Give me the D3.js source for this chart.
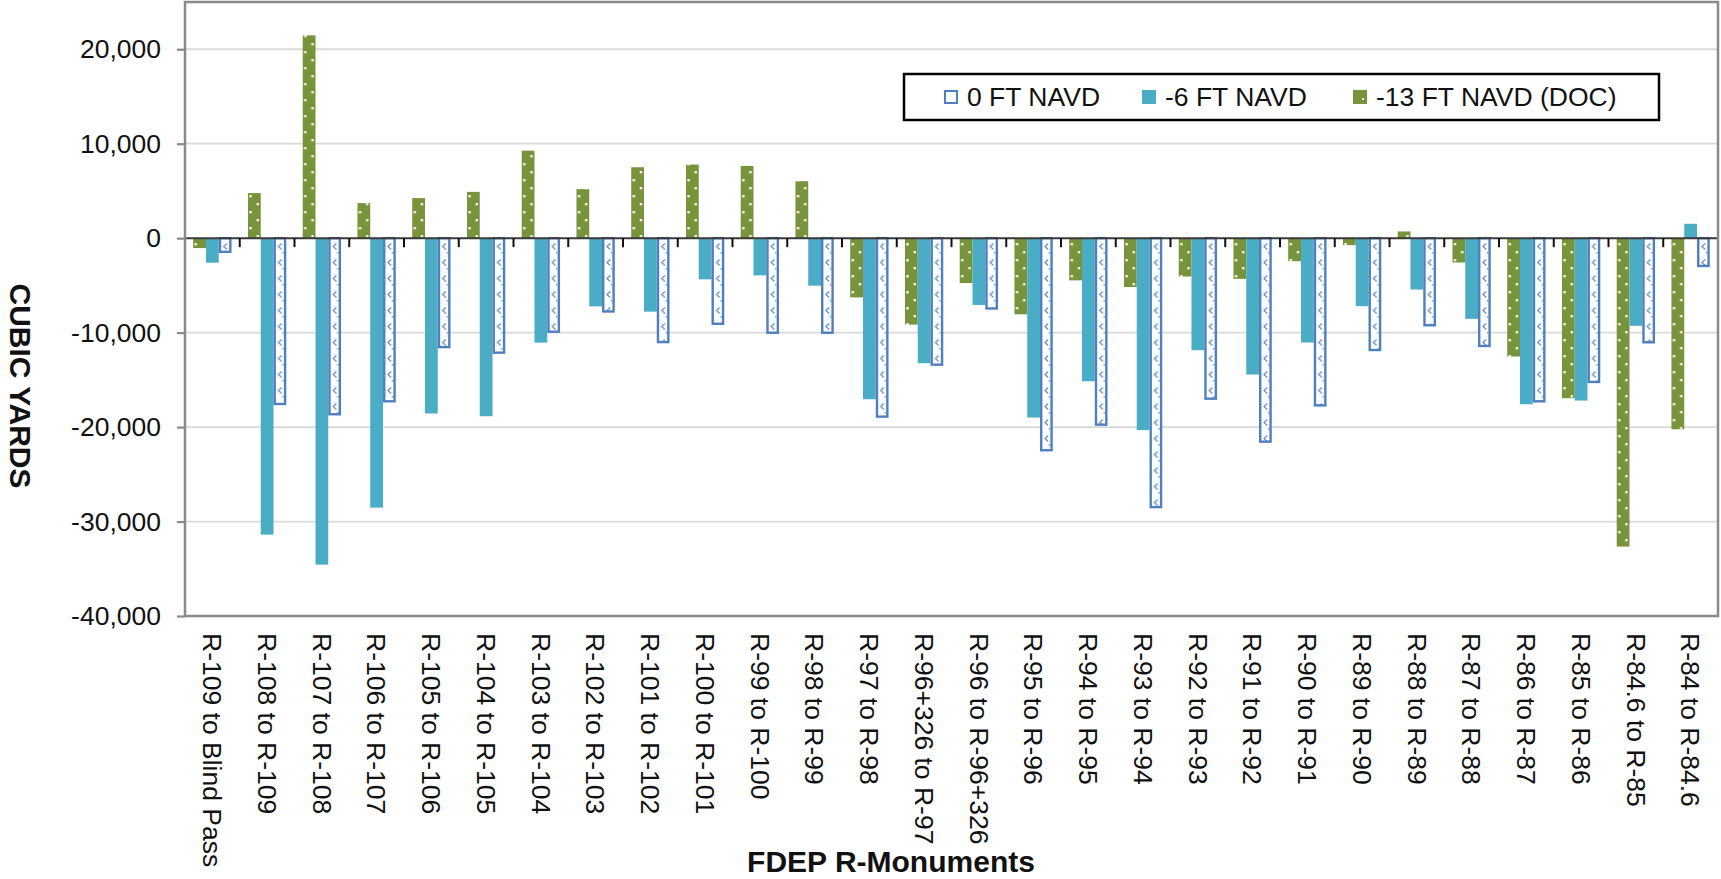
<!DOCTYPE html>
<html>
<head>
<meta charset="utf-8">
<script src="https://cdn.jsdelivr.net/npm/d3@7"></script>
<style>
  html, body { margin: 0; padding: 0; background: #fff; }
  svg { display: block; font-family: "Liberation Sans", Arial, Helvetica, sans-serif; }
</style>
</head>
<body>
<svg id="chart" width="1721" height="879"></svg>
<script>
// Segment names along the shoreline, north to south
const categories = [
  "R-109 to Blind Pass", "R-108 to R-109", "R-107 to R-108", "R-106 to R-107",
  "R-105 to R-106", "R-104 to R-105", "R-103 to R-104", "R-102 to R-103",
  "R-101 to R-102", "R-100 to R-101", "R-99 to R-100", "R-98 to R-99",
  "R-97 to R-98", "R-96+326 to R-97", "R-96 to R-96+326", "R-95 to R-96",
  "R-94 to R-95", "R-93 to R-94", "R-92 to R-93", "R-91 to R-92",
  "R-90 to R-91", "R-89 to R-90", "R-88 to R-89", "R-87 to R-88",
  "R-86 to R-87", "R-85 to R-86", "R-84.6 to R-85", "R-84 to R-84.6"
];

// Volume change (cubic yards) above each contour
const docValues = [
  -1050, 4770, 21470, 3710, 4240, 4900, 9270, 5190, 7510, 7790, 7650, 6030,
  -6270, -9150, -4750, -8060, -4470, -5170, -4060, -4310, -2440, -740, 710,
  -2580, -12530, -16940, -32650, -20230
];
const minus6Values = [
  -2600, -31390, -34560, -28530, -18560, -18850, -11060, -7220, -7780, -4360,
  -3940, -5030, -17050, -13240, -7070, -18990, -15150, -20320, -11860, -14440,
  -11050, -7200, -5440, -8540, -17580, -17190, -9280, 1520
];
const zeroValues = [
  -1575, -17680, -18770, -17400, -11660, -12250, -10030, -7890, -11130, -9190,
  -10140, -10140, -19020, -13520, -7570, -22580, -19870, -28600, -17120, -21670,
  -17830, -11970, -9350, -11540, -17400, -15350, -11150, -3070
];

const seriesNames = ["-13 FT NAVD (DOC)", "-6 FT NAVD", "0 FT NAVD"];   // drawing order within a group
const legendNames = ["0 FT NAVD", "-6 FT NAVD", "-13 FT NAVD (DOC)"];   // legend order
const yTickValues = [20000, 10000, 0, -10000, -20000, -30000, -40000];
const yDomain = [-40000, 25000];

const seriesData = {
  "-13 FT NAVD (DOC)": docValues,
  "-6 FT NAVD": minus6Values,
  "0 FT NAVD": zeroValues
};

// ---- layout ----
const plot = { left: 185, right: 1718, top: 2, bottom: 616 };
const fontSize = 26.5;

const svg = d3.select("#chart");
const defs = svg.append("defs");

// ---- scales ----
const x0 = d3.scaleBand().domain(categories)
  .range([plot.left, plot.right]).paddingInner(0.3).paddingOuter(0.15);
const x1 = d3.scaleBand().domain(seriesNames).range([0, x0.bandwidth()]);
const y = d3.scaleLinear().domain(yDomain).range([plot.bottom, plot.top]);

const step = x0.step();
const bw = x1.bandwidth();

// dotted fill for the DOC series, tiled once per category so every bar gets the same dot columns
const dots = defs.append("pattern")
  .attr("id", "dotsGreen").attr("patternUnits", "userSpaceOnUse")
  .attr("x", x0(categories[0]) + x1(seriesNames[0])).attr("y", 0)
  .attr("width", step).attr("height", 16);
dots.append("rect").attr("width", step).attr("height", 16).attr("fill", "#77933c");
dots.append("rect").attr("x", 1.4).attr("y", 3).attr("width", 2.4).attr("height", 2.4).attr("fill", "#f4f8e0");
dots.append("rect").attr("x", bw - 4.2).attr("y", 11).attr("width", 2.4).attr("height", 2.4).attr("fill", "#f4f8e0");

// light chevron fill for the 0 FT series
const chev = defs.append("pattern")
  .attr("id", "chevBlue").attr("patternUnits", "userSpaceOnUse")
  .attr("x", x0(categories[0]) + x1(seriesNames[2])).attr("y", 0)
  .attr("width", step).attr("height", 16);
chev.append("rect").attr("width", step).attr("height", 16).attr("fill", "#fbfdff");
chev.append("path").attr("d", `M${bw / 2 + 1.8},3.5 L${bw / 2 - 1.4},6.5 L${bw / 2 + 1.8},9.5`)
  .attr("fill", "none").attr("stroke", "#6f91c9").attr("stroke-width", 1.3);
chev.append("rect").attr("x", bw - 4).attr("y", 12).attr("width", 1.6).attr("height", 1.6)
  .attr("fill", "#7f9dd0");

const seriesStyle = {
  "-13 FT NAVD (DOC)": { fill: "url(#dotsGreen)", stroke: "none", sw: 0 },
  "-6 FT NAVD": { fill: "#4bacc6", stroke: "none", sw: 0 },
  "0 FT NAVD": { fill: "url(#chevBlue)", stroke: "#4f7fbf", sw: 2.4 }
};

// ---- gridlines ----
svg.append("g").selectAll("line")
  .data(yTickValues.filter(v => v !== 0 && v !== yDomain[0]))
  .join("line")
  .attr("x1", plot.left).attr("x2", plot.right)
  .attr("y1", d => y(d)).attr("y2", d => y(d))
  .attr("stroke", "#d9d9d9").attr("stroke-width", 1.8);

// ---- bars (absolute x so the per-category pattern tiles line up) ----
const barData = [];
categories.forEach((c, i) => {
  seriesNames.forEach(s => barData.push({ c, s, v: seriesData[s][i] }));
});

svg.append("g").selectAll("rect")
  .data(barData)
  .join("rect")
  .each(function (d) {
    const st = seriesStyle[d.s];
    const inset = st.sw / 2;
    const y0 = y(0), yv = y(d.v);
    const top = Math.min(y0, yv), bot = Math.max(y0, yv);
    d3.select(this)
      .attr("x", x0(d.c) + x1(d.s) + inset)
      .attr("width", bw - 2 * inset)
      .attr("y", d.v >= 0 ? top + inset : top)
      .attr("height", Math.max(0, bot - top - inset))
      .attr("fill", st.fill)
      .attr("stroke", st.stroke)
      .attr("stroke-width", st.sw);
  });

// ---- zero axis with tick marks at category boundaries ----
const boundaries = categories.map(c => x0(c) - step * x0.paddingInner() / 2)
  .concat([plot.right]);
svg.append("line")
  .attr("x1", plot.left).attr("x2", plot.right)
  .attr("y1", y(0)).attr("y2", y(0))
  .attr("stroke", "#3a3a3a").attr("stroke-width", 2);
svg.append("g").selectAll("line")
  .data(boundaries)
  .join("line")
  .attr("x1", d => d).attr("x2", d => d)
  .attr("y1", y(0)).attr("y2", y(0) + 9)
  .attr("stroke", "#111").attr("stroke-width", 2);

// ---- y axis ----
const comma = d3.format(",");
const yAxis = d3.axisLeft(y)
  .tickValues(yTickValues)
  .tickSize(8)
  .tickPadding(16)
  .tickFormat(d => comma(d).replace("\u2212", "-"));
const yg = svg.append("g")
  .attr("transform", `translate(${plot.left},0)`)
  .call(yAxis);
yg.select(".domain").remove();
yg.selectAll(".tick line").attr("stroke", "#8a8a8a").attr("stroke-width", 2.2);
yg.selectAll(".tick text")
  .attr("font-size", fontSize)
  .attr("font-family", "'Liberation Sans', Arial, sans-serif")
  .attr("fill", "#111");

// ---- plot frame ----
svg.append("rect")
  .attr("x", plot.left).attr("y", plot.top)
  .attr("width", plot.right - plot.left).attr("height", plot.bottom - plot.top)
  .attr("fill", "none").attr("stroke", "#8a8a8a").attr("stroke-width", 2.5);

// ---- category labels (vertical, below the frame) ----
svg.append("g").selectAll("text")
  .data(categories)
  .join("text")
  .attr("transform", d => `translate(${x0(d) + x0.bandwidth() / 2},${plot.bottom + 17}) rotate(90)`)
  .attr("dy", "0.35em")
  .attr("text-anchor", "start")
  .attr("font-size", fontSize)
  .attr("fill", "#111")
  .text(d => d);

// ---- axis titles ----
svg.append("text")
  .attr("x", 891).attr("y", 872)
  .attr("text-anchor", "middle")
  .attr("font-size", 30).attr("font-weight", "bold")
  .attr("fill", "#111")
  .text("FDEP R-Monuments");

svg.append("text")
  .attr("transform", "translate(20,386) rotate(90)")
  .attr("dy", "0.35em")
  .attr("text-anchor", "middle")
  .attr("font-size", 30).attr("font-weight", "bold")
  .attr("fill", "#111")
  .text("CUBIC YARDS");

// ---- legend ----
const legend = svg.append("g");
legend.append("rect")
  .attr("x", 904).attr("y", 74).attr("width", 755).attr("height", 46)
  .attr("fill", "#fff").attr("stroke", "#000").attr("stroke-width", 2.5);

const legendX = [944, 1142, 1353];
const legendSwatch = {
  "0 FT NAVD": { fill: "#fbfdff", stroke: "#4f7fbf", sw: 2 },
  "-6 FT NAVD": { fill: "#4bacc6", stroke: "none", sw: 0 },
  "-13 FT NAVD (DOC)": { fill: "#77933c", stroke: "none", sw: 0 }
};
legendNames.forEach((name, i) => {
  const sw = legendSwatch[name];
  legend.append("rect")
    .attr("x", legendX[i] + sw.sw / 2).attr("y", 90 + sw.sw / 2)
    .attr("width", 14 - sw.sw).attr("height", 14 - sw.sw)
    .attr("fill", sw.fill)
    .attr("stroke", sw.stroke).attr("stroke-width", sw.sw);
  if (name === "-13 FT NAVD (DOC)") {
    legend.append("rect").attr("x", legendX[i] + 9).attr("y", 98)
      .attr("width", 2).attr("height", 2).attr("fill", "#eef4d2");
  }
  legend.append("text")
    .attr("x", legendX[i] + 23).attr("y", 97)
    .attr("dy", "0.35em")
    .attr("font-size", fontSize)
    .attr("fill", "#111")
    .text(name);
});
</script>
</body>
</html>
